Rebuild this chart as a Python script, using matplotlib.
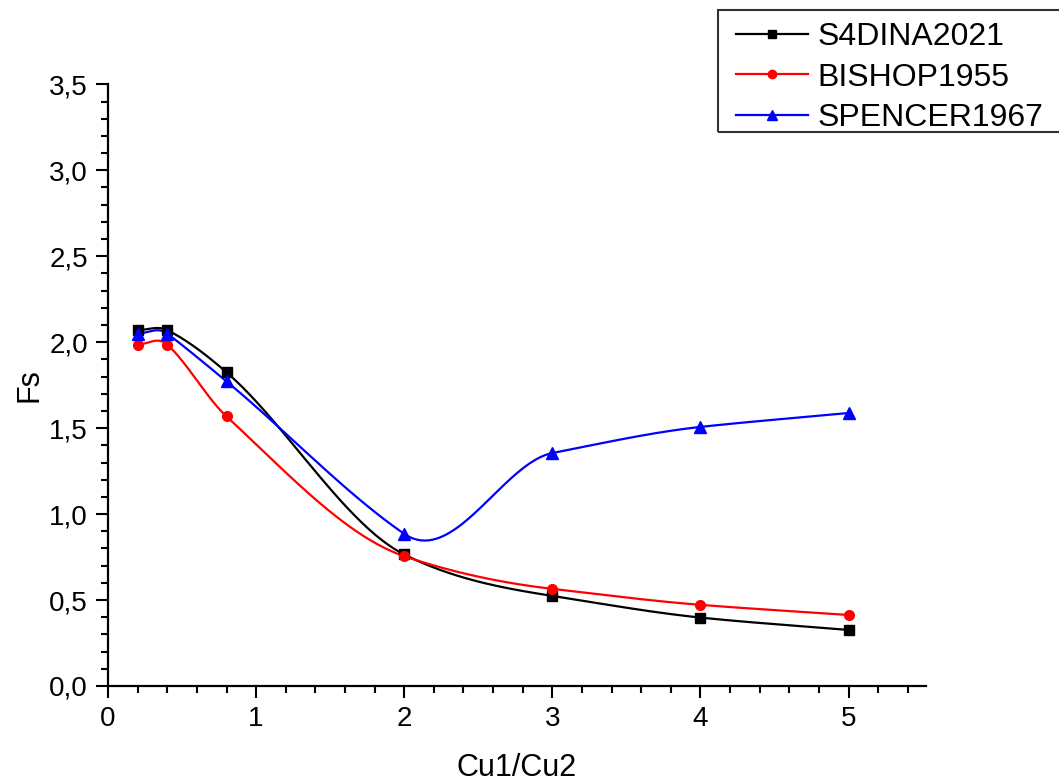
import numpy as np
import matplotlib
matplotlib.use("Agg")
import matplotlib.pyplot as plt
from matplotlib.ticker import MultipleLocator, FuncFormatter
from matplotlib.legend_handler import HandlerLine2D
from matplotlib.patches import Rectangle

# Cu1/Cu2 ratios and safety factors for each method
ratio = [0.2, 0.4, 0.8, 2.0, 3.0, 4.0, 5.0]
fs_s4dina = [2.07, 2.07, 1.825, 0.765, 0.524, 0.398, 0.326]
fs_bishop = [1.986, 1.986, 1.568, 0.755, 0.565, 0.472, 0.413]
fs_spencer = [2.05, 2.05, 1.772, 0.885, 1.355, 1.507, 1.588]

series_names = ["S4DINA2021", "BISHOP1955", "SPENCER1967"]


def akima_curve(x, y, per_seg=80):
    """Akima interpolation evaluated densely between the data points."""
    x = np.asarray(x, float)
    y = np.asarray(y, float)
    n = len(x)
    s = np.diff(y) / np.diff(x)
    # extend slopes at both ends
    sm1 = 2 * s[0] - s[1]
    sm2 = 2 * sm1 - s[0]
    sp1 = 2 * s[-1] - s[-2]
    sp2 = 2 * sp1 - s[-1]
    se = np.concatenate([[sm2, sm1], s, [sp1, sp2]])
    m = np.empty(n)
    for i in range(n):
        s_im2, s_im1, s_i, s_ip1 = se[i], se[i + 1], se[i + 2], se[i + 3]
        w1 = abs(s_ip1 - s_i)
        w2 = abs(s_im1 - s_im2)
        if w1 + w2 < 1e-12:
            m[i] = 0.5 * (s_im1 + s_i)
        else:
            m[i] = (w1 * s_im1 + w2 * s_i) / (w1 + w2)
    # end tangents follow the end chords
    m[0] = s[0]
    m[-1] = s[-1]
    xs_all, ys_all = [], []
    for i in range(n - 1):
        h = x[i + 1] - x[i]
        t = np.linspace(0, 1, per_seg)
        h00 = 2 * t**3 - 3 * t**2 + 1
        h10 = t**3 - 2 * t**2 + t
        h01 = -2 * t**3 + 3 * t**2
        h11 = t**3 - t**2
        xs_all.append(x[i] + t * h)
        ys_all.append(h00 * y[i] + h10 * h * m[i] + h01 * y[i + 1] + h11 * h * m[i + 1])
    return np.concatenate(xs_all), np.concatenate(ys_all)


plt.rcParams["font.family"] = ["Liberation Sans", "DejaVu Sans"]

fig = plt.figure(figsize=(10.59, 7.83), dpi=100)
ax = fig.add_axes([0.102, 0.1239, 0.772, 0.7684])
ax.set_xlim(0, 5.52)
ax.set_ylim(0, 3.5)

styles = [
    (fs_s4dina, "black", "s", 7),
    (fs_bishop, "#ff0000", "o", 7),
    (fs_spencer, "#0000ff", "^", 8),
]
handles = []
for (vals, col, mk, ms), name in zip(styles, series_names):
    xs, ys = akima_curve(ratio, vals)
    ax.plot(xs, ys, color=col, lw=1.6, zorder=2)
    ax.plot(ratio, vals, ls="none", marker=mk, ms=ms, color=col, zorder=3)
    h, = ax.plot([], [], color=col, lw=1.6, marker=mk, ms=ms - 1)
    handles.append(h)

ax.xaxis.set_major_locator(MultipleLocator(1))
ax.xaxis.set_minor_locator(MultipleLocator(0.2))
ax.yaxis.set_major_locator(MultipleLocator(0.5))
ax.yaxis.set_minor_locator(MultipleLocator(0.1))
ax.yaxis.set_major_formatter(FuncFormatter(lambda v, p: f"{v:.1f}".replace(".", ",")))
ax.xaxis.set_major_formatter(FuncFormatter(lambda v, p: f"{v:.0f}"))

for s in ["top", "right"]:
    ax.spines[s].set_visible(False)
for s in ["left", "bottom"]:
    ax.spines[s].set_linewidth(1.6)

ax.tick_params(which="major", direction="out", length=8.5, width=1.5, labelsize=20, pad=6)
ax.tick_params(which="minor", direction="out", length=5, width=1.5)

ax.set_xlabel("Cu1/Cu2", fontsize=22, labelpad=15)
ax.set_ylabel("Fs", fontsize=22, labelpad=3)

# legend box running off the right edge of the figure
W, H = 1059, 783
fig.patches.append(Rectangle((718 / W, 1 - 132 / H), (1070 - 718) / W, 122 / H,
                             transform=fig.transFigure, fill=False,
                             edgecolor="#333333", linewidth=1.5, zorder=5))
leg = fig.legend(handles, series_names, loc="upper left",
                 bbox_to_anchor=(718 / W, 1 - 15 / H),
                 fontsize=23, frameon=False,
                 handlelength=2.6, handletextpad=0.3, labelspacing=0.33,
                 borderpad=0.22, borderaxespad=0,
                 handler_map={h: HandlerLine2D(xpad=0.35) for h in handles})

fig.savefig("out.png", dpi=100)
